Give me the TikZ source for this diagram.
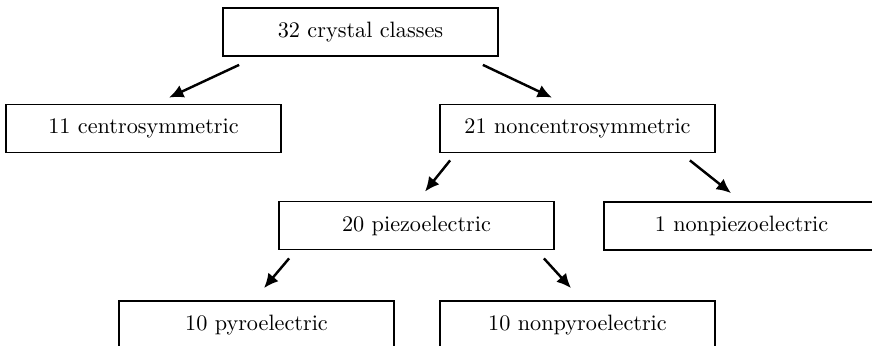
\documentclass[tikz,border=0pt]{standalone}
\usetikzlibrary{arrows.meta,calc}
\tikzset{
  box/.style={draw, line width=0.8pt, minimum width=123.75pt, minimum height=21.6pt, inner sep=0pt, font=\normalsize},
  arr/.style={line width=1.1pt, -{Latex[length=6.5pt,width=6pt]}}
}
\begin{document}
\begin{tikzpicture}[x=0.45pt,y=-0.45pt]
\useasboundingbox (0,0) rectangle (872,345);
\clip (0,0) rectangle (872,345);
\node[box] (top) at (360.5,32) {32 crystal classes};
\node[box] (centro) at (143.5,128.5) {11 centrosymmetric};
\node[box] (noncentro) at (577.5,128.5) {21 noncentrosymmetric};
\node[box] (piezo) at (416.5,225.5) {20 piezoelectric};
\node[box] (nonpiezo) at (741.5,226) {1 nonpiezoelectric};
\node[box] (pyro) at (256.5,325) {10 pyroelectric};
\node[box] (nonpyro) at (577.5,325) {10 nonpyroelectric};
\draw[arr] ($(top.south west)+(17,8)$) -- ($(centro.north)+(25.5,-6)$);
\draw[arr] ($(top.south east)+(-16,8)$) -- ($(noncentro.north)+(-25.5,-6)$);
\draw[arr] ($(noncentro.south west)+(11,7)$) -- ($(piezo.north)+(8.5,-9)$);
\draw[arr] ($(noncentro.south east)+(-26,7)$) -- ($(nonpiezo.north)+(-10.5,-8)$);
\draw[arr] ($(piezo.south west)+(11,8)$) -- ($(pyro.north)+(7.5,-12)$);
\draw[arr] ($(piezo.south east)+(-11,8)$) -- ($(nonpyro.north)+(-6.5,-12)$);
\end{tikzpicture}
\end{document}
